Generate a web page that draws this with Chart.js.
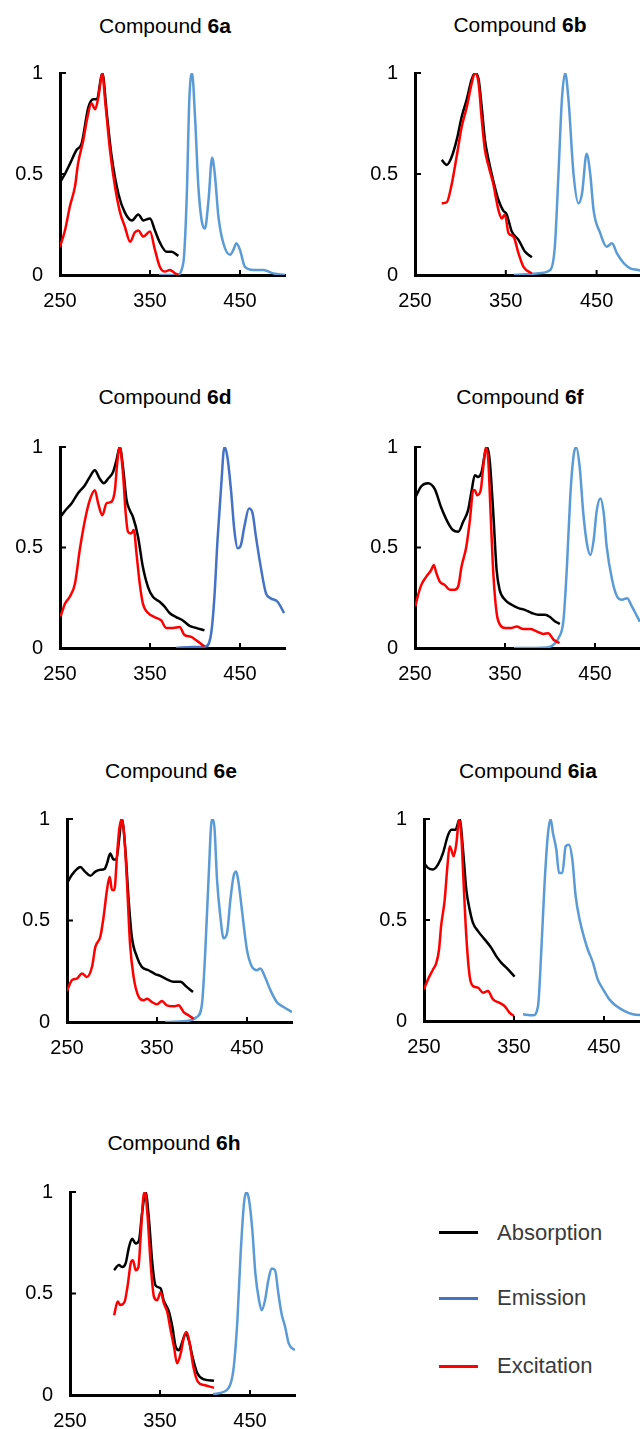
<!DOCTYPE html>
<html>
<head>
<meta charset="utf-8">
<script src="https://cdn.jsdelivr.net/npm/chart.js@4.4.1/dist/chart.umd.min.js"></script>
<style>
  body { margin: 0; width: 640px; height: 1429px; overflow: hidden; background: #fff; position: relative; font-family: "Liberation Sans", Arial, sans-serif; }
  .box { position: absolute; }
  .titre { position: absolute; width: 240px; text-align: center; font-size: 21px; line-height: 21px; color: #000; white-space: nowrap; }
  .leg-line { position: absolute; left: 439px; width: 39px; height: 3px; }
  .leg-txt { position: absolute; left: 497px; font-size: 22px; line-height: 22px; color: #3a3a3a; }
</style>
</head>
<body>
<div id="root"></div>

<div class="leg-line" style="top:1231px; background:#000"></div>
<div class="leg-txt" style="top:1222px">Absorption</div>
<div class="leg-line" style="top:1297px; background:#4472c4"></div>
<div class="leg-txt" style="top:1287px">Emission</div>
<div class="leg-line" style="top:1365px; background:#ff0000"></div>
<div class="leg-txt" style="top:1355px">Excitation</div>

<script>
// ticks des axes
const xTicks = [250, 350, 450]
const yTicks = [0, 0.5, 1]

// Compound 6a
const wlAbs6a = [250, 255.5, 261, 268.5, 274, 281.5, 287, 291, 297, 302, 307, 315, 322, 330, 337, 342.6, 350, 355.5, 361, 368.5, 374, 381.5]
const abs6a = [0.46, 0.50, 0.55, 0.62, 0.65, 0.83, 0.87, 0.87, 1.0, 0.80, 0.60, 0.40, 0.31, 0.27, 0.30, 0.27, 0.28, 0.22, 0.16, 0.115, 0.115, 0.094]
const wlExc6a = [250, 255.5, 261, 266.7, 270, 276, 280, 285, 289, 292.6, 297, 300, 305.5, 311, 316.7, 322, 328, 333, 337, 342.6, 350, 355.5, 361, 366.7, 372, 378, 381.5]
const exc6a = [0.14, 0.22, 0.34, 0.44, 0.55, 0.67, 0.77, 0.85, 0.82, 0.88, 1.0, 0.87, 0.62, 0.44, 0.31, 0.24, 0.165, 0.21, 0.22, 0.19, 0.215, 0.124, 0.04, 0.017, 0.025, 0.008, 0]
const wlEm6a = [360, 379.6, 387, 390.7, 393.7, 396.7, 400, 403.7, 407.4, 411, 415, 419, 422, 426, 431.5, 439, 442.6, 446, 450, 455.5, 465, 476, 487, 500]
const em6a = [0, 0, 0.06, 0.37, 0.87, 1.0, 0.785, 0.44, 0.27, 0.23, 0.37, 0.58, 0.50, 0.29, 0.157, 0.10, 0.124, 0.157, 0.124, 0.04, 0.025, 0.025, 0.008, 0]

// Compound 6b
const wlAbs6b = [279.4, 285, 290, 296, 301.5, 307, 312.5, 316, 320, 323.5, 327, 331, 336, 342, 347, 351, 356.6, 364, 371, 378.7]
const abs6b = [0.57, 0.545, 0.58, 0.67, 0.785, 0.87, 0.97, 1.0, 0.97, 0.83, 0.67, 0.57, 0.47, 0.37, 0.32, 0.30, 0.215, 0.174, 0.116, 0.088]
const wlExc6b = [279.4, 285, 290, 296, 301.5, 307, 312.5, 316, 320, 323.5, 327, 331, 336, 342, 345.6, 349, 353, 358.5, 364, 369.5, 378.7]
const exc6b = [0.355, 0.36, 0.44, 0.59, 0.735, 0.83, 0.95, 1.0, 0.95, 0.77, 0.62, 0.54, 0.455, 0.32, 0.28, 0.30, 0.207, 0.19, 0.107, 0.04, 0.008]
const wlEm6b = [359, 384, 399, 404, 408, 411.8, 415.4, 419, 424.6, 430, 434, 439, 443, 446.7, 454, 461, 467, 472.4, 480, 487, 496, 500]
const em6b = [0, 0.008, 0.025, 0.14, 0.50, 0.87, 1.0, 0.87, 0.50, 0.355, 0.405, 0.60, 0.50, 0.32, 0.207, 0.14, 0.157, 0.107, 0.058, 0.033, 0.025, 0.02]

// Compound 6d
const wlAbs6d = [250, 257, 263, 270, 277.7, 283, 288.7, 294, 298.7, 303.5, 309, 312.7, 316.4, 320, 324, 327.5, 331, 336.7, 342, 348, 353, 360.7, 366, 371.8, 379, 386.5, 394, 401, 410.5]
const abs6d = [0.65, 0.69, 0.72, 0.77, 0.81, 0.85, 0.884, 0.843, 0.82, 0.843, 0.876, 0.934, 1.0, 0.90, 0.735, 0.686, 0.653, 0.554, 0.405, 0.30, 0.256, 0.23, 0.207, 0.174, 0.154, 0.137, 0.11, 0.10, 0.088]
const wlExc6d = [250.7, 255.5, 261, 266.6, 272, 277.7, 283, 288.7, 292.4, 297, 301.7, 307, 311, 313.5, 316.4, 320, 323, 325.6, 329, 332, 335, 338.6, 342, 348, 355, 362.5, 368, 375.5, 383, 388, 395.8, 403, 410.5]
const exc6d = [0.157, 0.22, 0.256, 0.32, 0.49, 0.636, 0.735, 0.785, 0.72, 0.66, 0.72, 0.727, 0.785, 0.917, 1.0, 0.868, 0.67, 0.578, 0.57, 0.587, 0.47, 0.32, 0.223, 0.174, 0.154, 0.137, 0.10, 0.10, 0.104, 0.066, 0.055, 0.033, 0.008]
const wlEm6d = [379, 397.6, 412, 418, 421.6, 425, 429, 432.7, 436, 440, 443.7, 447.4, 451, 454.8, 460, 464, 467.7, 473, 478.8, 484, 491.7, 499]
const em6d = [0, 0.005, 0.008, 0.074, 0.256, 0.537, 0.80, 1.0, 0.95, 0.785, 0.587, 0.496, 0.512, 0.603, 0.694, 0.67, 0.554, 0.405, 0.273, 0.248, 0.23, 0.174]

// Compound 6f
const wlAbs6f = [250.7, 257, 264.5, 272, 279, 287, 292, 298, 303.5, 309, 313, 316.5, 320, 324, 327.7, 330, 333, 337, 340.7, 344, 350, 357.4, 365, 372, 379.7, 387, 394.6, 400, 405.8, 411]
const abs6f = [0.752, 0.805, 0.82, 0.79, 0.70, 0.62, 0.587, 0.578, 0.628, 0.686, 0.785, 0.86, 0.851, 0.876, 0.967, 1.0, 0.934, 0.67, 0.388, 0.29, 0.24, 0.215, 0.198, 0.19, 0.174, 0.165, 0.165, 0.154, 0.132, 0.12]
const wlExc6f = [250.4, 253, 257, 262.6, 268, 270.8, 273.8, 277.5, 283, 288.7, 294, 298, 301.7, 307, 311, 314.7, 316.5, 319, 323, 325.8, 328.8, 331.4, 334, 337, 340.7, 344.4, 350, 357.4, 363, 370.4, 378, 385, 392.7, 398, 404, 410.6]
const exc6f = [0.207, 0.256, 0.314, 0.355, 0.388, 0.413, 0.372, 0.33, 0.314, 0.29, 0.29, 0.306, 0.405, 0.504, 0.636, 0.785, 0.785, 0.76, 0.785, 0.90, 1.0, 0.934, 0.67, 0.372, 0.174, 0.116, 0.10, 0.10, 0.107, 0.094, 0.094, 0.083, 0.07, 0.074, 0.041, 0.025]
const wlEm6f = [360, 396.5, 404, 409.5, 415, 418.8, 422.5, 426, 429, 433, 437, 441, 444.8, 448.5, 452, 456, 459.7, 463, 469, 474.5, 480, 485.7, 491, 496.8, 500]
const em6f = [0, 0.003, 0.017, 0.05, 0.14, 0.405, 0.752, 0.95, 1.0, 0.90, 0.67, 0.52, 0.463, 0.537, 0.686, 0.744, 0.67, 0.504, 0.339, 0.256, 0.24, 0.248, 0.207, 0.157, 0.13]

// Compound 6e
const wlAbs6e = [250, 255.5, 261, 264.8, 270, 276, 281.5, 287, 291.5, 294.4, 298, 301.8, 304.8, 307.4, 311, 314.8, 318.5, 322, 327.8, 333, 340.7, 348, 353.7, 361, 368.5, 376, 383, 390]
const abs6e = [0.684, 0.725, 0.753, 0.763, 0.741, 0.72, 0.741, 0.75, 0.753, 0.78, 0.83, 0.80, 0.80, 0.88, 1.0, 0.85, 0.60, 0.42, 0.32, 0.272, 0.255, 0.236, 0.227, 0.21, 0.198, 0.198, 0.173, 0.148]
const wlExc6e = [250, 255.5, 261, 266.7, 272, 277.8, 281.5, 287, 290.7, 294.4, 297.4, 300, 302.6, 305.5, 308, 311, 313.7, 316.7, 320, 324, 329.6, 335, 339, 344, 350, 355.5, 361, 368.5, 374, 379.6, 385, 390.7]
const exc6e = [0.153, 0.206, 0.214, 0.239, 0.222, 0.272, 0.37, 0.42, 0.519, 0.65, 0.716, 0.65, 0.65, 0.815, 0.947, 1.0, 0.914, 0.684, 0.387, 0.222, 0.124, 0.107, 0.115, 0.099, 0.087, 0.104, 0.082, 0.077, 0.082, 0.049, 0.033, 0.016]
const wlEm6e = [359, 383, 394.4, 400, 403.7, 407.4, 411, 413.7, 416.7, 420.4, 424, 427.8, 431.5, 435, 438, 440.7, 444.4, 450, 455.5, 461, 464.8, 470, 476, 483, 490.7, 500]
const em6e = [0, 0.005, 0.025, 0.09, 0.354, 0.717, 1.0, 0.964, 0.70, 0.519, 0.412, 0.437, 0.60, 0.717, 0.741, 0.684, 0.55, 0.354, 0.272, 0.255, 0.264, 0.222, 0.157, 0.099, 0.074, 0.049]

// Compound 6ia
const wlAbs6ia = [250, 254.4, 260, 265.5, 271, 276.7, 280.4, 285, 289.6, 293.3, 297, 300.7, 304.4, 310, 317.4, 324.8, 330.4, 336, 341.5, 350.7]
const abs6ia = [0.783, 0.758, 0.75, 0.774, 0.83, 0.92, 0.947, 0.947, 1.0, 0.85, 0.65, 0.552, 0.486, 0.445, 0.404, 0.362, 0.32, 0.288, 0.264, 0.22]
const wlExc6ia = [250, 254.4, 260, 263.7, 266.7, 269, 273, 276, 278.5, 280.4, 283, 286, 289, 291.5, 294, 297, 300.7, 304.4, 310, 315.5, 321, 326.7, 334, 339.6, 345, 350]
const exc6ia = [0.157, 0.206, 0.255, 0.288, 0.354, 0.47, 0.60, 0.766, 0.865, 0.848, 0.815, 0.88, 1.0, 0.914, 0.684, 0.42, 0.222, 0.173, 0.165, 0.14, 0.148, 0.107, 0.09, 0.074, 0.041, 0.025]
const wlEm6ia = [360, 371, 376.7, 380.4, 384, 387.8, 390.7, 393.3, 397, 400, 403.7, 407.4, 411, 414.8, 418.5, 423, 428.5, 432, 437.8, 443, 449, 456, 463.7, 473, 482, 490, 500]
const em6ia = [0.033, 0.028, 0.074, 0.354, 0.684, 0.93, 1.0, 0.93, 0.85, 0.733, 0.733, 0.865, 0.873, 0.80, 0.618, 0.50, 0.404, 0.354, 0.288, 0.206, 0.157, 0.107, 0.074, 0.049, 0.033, 0.03, 0.03]

// Compound 6h
const wlAbs6h = [299, 304.4, 308, 311.8, 315.6, 319, 323, 326.7, 330, 334, 337.8, 341.5, 345, 350.7, 354, 360, 363.7, 367.4, 371, 374.8, 378.5, 382, 386, 391.5, 399, 410]
const abs6h = [0.615, 0.64, 0.63, 0.648, 0.73, 0.77, 0.746, 0.762, 0.893, 1.0, 0.86, 0.648, 0.54, 0.525, 0.467, 0.41, 0.336, 0.238, 0.22, 0.262, 0.303, 0.27, 0.19, 0.107, 0.077, 0.07]
const wlExc6h = [299, 303, 306, 310.7, 314.4, 317.4, 320, 323, 326, 328.5, 331.5, 333.3, 336, 339.6, 343.3, 347, 350.7, 354.4, 358, 361.8, 365.5, 369, 373, 376.7, 379.6, 383, 387, 392, 399, 410]
const exc6h = [0.393, 0.46, 0.443, 0.46, 0.55, 0.648, 0.664, 0.615, 0.63, 0.78, 0.975, 1.0, 0.893, 0.648, 0.484, 0.467, 0.508, 0.45, 0.41, 0.32, 0.238, 0.156, 0.205, 0.287, 0.31, 0.254, 0.14, 0.066, 0.049, 0.036]
const wlEm6h = [409, 421, 428.5, 432, 436, 439.6, 443.3, 446, 449, 452.6, 456, 460, 463, 466.7, 470.4, 474, 477.8, 481.5, 485, 489, 493, 500]
const em6h = [0.005, 0.016, 0.057, 0.14, 0.369, 0.697, 0.943, 1.0, 0.959, 0.811, 0.598, 0.467, 0.418, 0.467, 0.566, 0.623, 0.615, 0.50, 0.402, 0.336, 0.254, 0.22]


const NOIR = '#000000'
const BLEU = '#5b9bd5'
const ROUGE = '#ff0000'

// position de chaque zone de tracé (axe gauche, haut, largeur, hauteur) + titre
const panneaux = [
    { nom: '6a', left: 60, top: 73, w: 225, h: 202, tx: 165, ty: 15, abs: [wlAbs6a, abs6a], exc: [wlExc6a, exc6a], em: [wlEm6a, em6a] },
    { nom: '6b', left: 415, top: 73, w: 227, h: 202, tx: 520, ty: 14, abs: [wlAbs6b, abs6b], exc: [wlExc6b, exc6b], em: [wlEm6b, em6b] },
    { nom: '6d', left: 60, top: 447, w: 225, h: 201, tx: 165, ty: 386, abs: [wlAbs6d, abs6d], exc: [wlExc6d, exc6d], em: [wlEm6d, em6d], bleu: '#4472c4' },
    { nom: '6f', left: 415, top: 447, w: 225, h: 201, tx: 520, ty: 386, abs: [wlAbs6f, abs6f], exc: [wlExc6f, exc6f], em: [wlEm6f, em6f] },
    { nom: '6e', left: 67, top: 819, w: 225, h: 203, tx: 171, ty: 760, abs: [wlAbs6e, abs6e], exc: [wlExc6e, exc6e], em: [wlEm6e, em6e] },
    { nom: '6ia', left: 424, top: 819, w: 225, h: 202, tx: 528, ty: 760, abs: [wlAbs6ia, abs6ia], exc: [wlExc6ia, exc6ia], em: [wlEm6ia, em6ia] },
    { nom: '6h', left: 70, top: 1192, w: 225, h: 203, tx: 174, ty: 1132, abs: [wlAbs6h, abs6h], exc: [wlExc6h, exc6h], em: [wlEm6h, em6h] }
]

// petits ticks vers l'intérieur
const ticksInterieurs = {
    id: 'ticksInterieurs',
    afterDraw(chart) {
        const { ctx, chartArea, scales } = chart
        ctx.save()
        ctx.strokeStyle = '#000'
        ctx.lineWidth = 2
        ctx.beginPath()
        xTicks.forEach(v => {
            if (v === xTicks[0]) return
            const x = scales.x.getPixelForValue(v)
            ctx.moveTo(x, chartArea.bottom)
            ctx.lineTo(x, chartArea.bottom - 5)
        })
        yTicks.forEach(v => {
            if (v === 0) return
            const y = scales.y.getPixelForValue(v)
            ctx.moveTo(chartArea.left, y)
            ctx.lineTo(chartArea.left + 6, y)
        })
        ctx.stroke()
        ctx.restore()
    }
}

function pts(wl, vals) {
    return wl.map((x, i) => ({ x: x, y: vals[i] }))
}

function serie(label, paire, couleur, ordre) {
    return {
        label: label,
        data: pts(paire[0], paire[1]),
        borderColor: couleur,
        backgroundColor: couleur,
        borderWidth: 2.5,
        pointRadius: 0,
        cubicInterpolationMode: 'monotone',
        fill: false,
        order: ordre
    }
}

const police = { family: '"Liberation Sans", Arial, sans-serif', size: 20 }
const root = document.getElementById('root')
const MARGE_HAUT = 20

panneaux.forEach(p => {
    const box = document.createElement('div')
    box.className = 'box'
    const W = 60 + p.w + 10
    const H = MARGE_HAUT + p.h + 50
    box.style.left = (p.left - 60) + 'px'
    box.style.top = (p.top - MARGE_HAUT) + 'px'
    box.style.width = W + 'px'
    box.style.height = H + 'px'
    const cv = document.createElement('canvas')
    cv.width = W
    cv.height = H
    box.appendChild(cv)
    root.appendChild(box)

    const t = document.createElement('div')
    t.className = 'titre'
    t.style.left = (p.tx - 120) + 'px'
    t.style.top = p.ty + 'px'
    t.innerHTML = 'Compound <b>' + p.nom + '</b>'
    root.appendChild(t)

    new Chart(cv, {
        type: 'line',
        data: {
            datasets: [
                serie('Excitation', p.exc, ROUGE, 0),
                serie('Emission', p.em, p.bleu || BLEU, 1),
                serie('Absorption', p.abs, NOIR, 2)
            ]
        },
        options: {
            responsive: false,
            animation: false,
            layout: { padding: { top: MARGE_HAUT, right: 10, left: 0, bottom: 0 } },
            plugins: { legend: { display: false }, tooltip: { enabled: false } },
            scales: {
                x: {
                    type: 'linear',
                    min: 250,
                    max: 500,
                    afterBuildTicks: s => { s.ticks = xTicks.map(v => ({ value: v })) },
                    afterFit: s => { s.height = 50; s.paddingLeft = 0; s.paddingRight = 0 },
                    ticks: { color: '#000', font: police, padding: 14, maxRotation: 0, autoSkip: false, callback: v => String(v) },
                    grid: { drawOnChartArea: false, drawTicks: false },
                    border: { display: true, color: '#000', width: 3 }
                },
                y: {
                    min: 0,
                    max: 1,
                    afterBuildTicks: s => { s.ticks = yTicks.map(v => ({ value: v })) },
                    afterFit: s => { s.width = 60; s.paddingTop = 0; s.paddingBottom = 0 },
                    ticks: { color: '#000', font: police, padding: 17, callback: v => String(v) },
                    grid: { drawOnChartArea: false, drawTicks: false },
                    border: { display: true, color: '#000', width: 3 }
                }
            }
        },
        plugins: [ticksInterieurs]
    })
})
</script>
</body>
</html>
